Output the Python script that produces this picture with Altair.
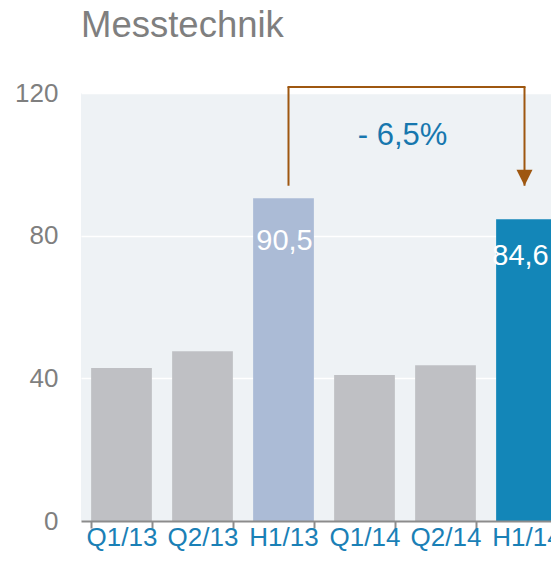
import altair as alt
import pandas as pd

# ---- data ----
categories = ["Q1/13", "Q2/13", "H1/13", "Q1/14", "Q2/14", "H1/14"]
values = [42.9, 47.6, 90.5, 40.9, 43.7, 84.6]
bar_colors = ["#bfc0c4", "#bfc0c4", "#abbbd6", "#bfc0c4", "#bfc0c4", "#1386b8"]

label_categories = ["H1/13", "H1/14"]
label_values = [90.5, 84.6]
label_texts = ["90,5", "84,6"]

change_text = "- 6,5%"
change_category = "Q1/14"
change_y = 105.4

bracket_from = "H1/13"
bracket_to = "H1/14"
bracket_top = 121.7
bracket_bottom = 94.0

FONT = "Liberation Sans"
BROWN = "#9e5710"

bars_df = pd.DataFrame({"cat": categories, "value": values, "color": bar_colors})
labels_df = pd.DataFrame({"cat": label_categories, "value": label_values, "text": label_texts})
change_df = pd.DataFrame({"cat": [change_category], "value": [change_y], "text": [change_text]})
left_df = pd.DataFrame({"cat": [bracket_from], "y": [bracket_bottom], "y2": [bracket_top]})
top_df = pd.DataFrame({"cat": [bracket_from], "cat2": [bracket_to], "y": [bracket_top]})
right_df = pd.DataFrame({"cat": [bracket_to], "y": [bracket_top], "y2": [bracket_bottom]})
arrow_df = pd.DataFrame({"cat": [bracket_to], "y": [bracket_bottom]})

xscale = alt.Scale(domain=categories, range=[0, 486], paddingInner=0.25, paddingOuter=0.125)
yscale = alt.Scale(domain=[0, 120], nice=False, zero=True)

xaxis = alt.Axis(
    title=None, labelAngle=0, labelFontSize=26, labelColor="#1a80b6", labelFont=FONT,
    labelPadding=-4, domainColor="#8c8c8c", domainWidth=2, tickColor="#8c8c8c",
    tickWidth=2, tickSize=7, tickBand="extent", zindex=1,
)
yaxis = alt.Axis(
    title=None, values=[0, 40, 80, 120], labelFontSize=26, labelColor="#7f7f7f",
    labelFont=FONT, labelPadding=23, domain=False, ticks=False, grid=True,
    gridColor="#ffffff", gridWidth=1.5,
)

X = alt.X("cat:N", scale=xscale, axis=xaxis, sort=categories)
Xn = alt.X("cat:N", scale=xscale, sort=categories)

bars = alt.Chart(bars_df).mark_bar().encode(
    x=X,
    y=alt.Y("value:Q", scale=yscale, axis=yaxis),
    color=alt.Color("color:N", scale=None, legend=None),
)

lab1 = alt.Chart(labels_df).transform_filter(alt.datum.cat == label_categories[0]).mark_text(
    font=FONT, fontSize=29, color="white", baseline="alphabetic", dy=52, dx=1
).encode(x=Xn, y=alt.Y("value:Q", scale=yscale), text="text:N")

lab2 = alt.Chart(labels_df).transform_filter(alt.datum.cat == label_categories[1]).mark_text(
    font=FONT, fontSize=29, color="white", baseline="alphabetic", dy=46, dx=-6
).encode(x=Xn, y=alt.Y("value:Q", scale=yscale), text="text:N")

change = alt.Chart(change_df).mark_text(
    font=FONT, fontSize=31, color="#1777ae", baseline="alphabetic", align="center", dx=38
).encode(x=Xn, y=alt.Y("value:Q", scale=yscale), text="text:N")

left = alt.Chart(left_df).mark_rule(color=BROWN, strokeWidth=2, xOffset=5).encode(
    x=Xn, y=alt.Y("y:Q", scale=yscale), y2="y2:Q"
)
top = alt.Chart(top_df).mark_rule(color=BROWN, strokeWidth=2, xOffset=4, x2Offset=-1).encode(
    x=Xn, x2="cat2:N", y=alt.Y("y:Q", scale=yscale)
)
right = alt.Chart(right_df).mark_rule(color=BROWN, strokeWidth=2, xOffset=-2).encode(
    x=Xn, y=alt.Y("y:Q", scale=yscale), y2="y2:Q"
)
arrow = alt.Chart(arrow_df).mark_point(
    shape="M-1,-2L1,-2L0,0Z", size=256, filled=True, color=BROWN, opacity=1, xOffset=-2
).encode(x=Xn, y=alt.Y("y:Q", scale=yscale))

chart = alt.layer(bars, lab1, lab2, left, top, right, arrow, change).properties(
    width=470,
    height=428,
    title=alt.TitleParams(
        "Messtechnik", anchor="start", fontSize=36.5, font=FONT, fontWeight="normal",
        color="#7f7f7f", baseline="alphabetic", offset=7, frame="group",
    ),
    autosize=alt.AutoSizeParams(type="none"),
    padding={"left": 73, "top": 85, "right": 0, "bottom": 32},
).configure_view(stroke=None, fill="#eef2f5")

chart.save("out.html", embed_options={"renderer": "svg", "actions": False})
